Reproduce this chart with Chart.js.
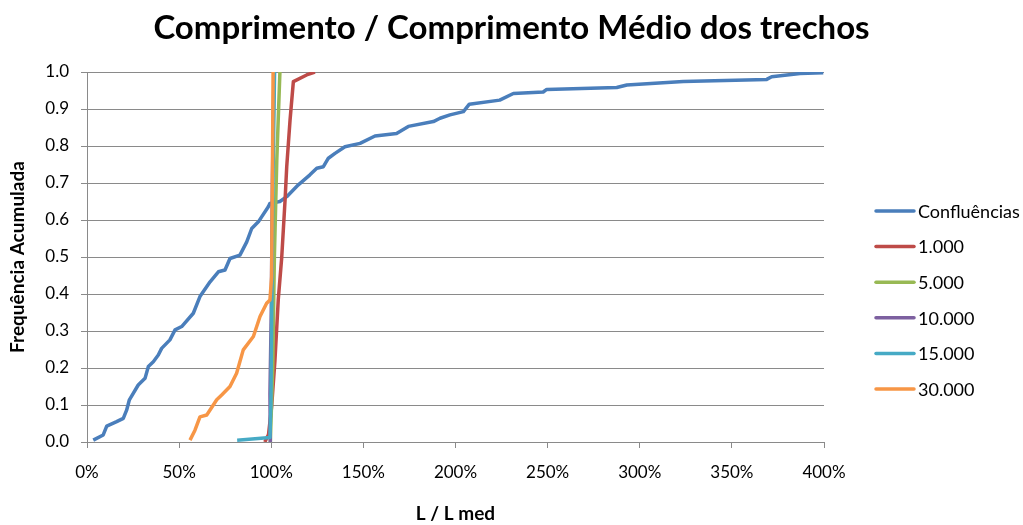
<!DOCTYPE html>
<html>
<head>
<meta charset="utf-8">
<script src="https://cdn.jsdelivr.net/npm/chart.js@4/dist/chart.umd.min.js"></script>
<style>
  html, body { margin: 0; padding: 0; background: #ffffff; }
  #wrap { width: 1023px; height: 525px; }
</style>
</head>
<body>
<div id="wrap"><canvas id="c" width="1023" height="525"></canvas></div>
<script>
// L / L med (%) against cumulative frequency, one list of [x, y] pairs per series
const confluencias = [[3.4,0.005],[8.8,0.019],[10.7,0.043],[16.1,0.055],[19.7,0.064],[21.5,0.086],[23,0.114],[27.8,0.154],[31.5,0.172],[33.3,0.204],[36,0.217],[38.7,0.235],[40.5,0.253],[45,0.276],[47.8,0.303],[51.4,0.312],[57.7,0.348],[61.3,0.393],[66.8,0.433],[71.3,0.46],[74.9,0.465],[77.6,0.496],[83,0.505],[86.7,0.541],[89.4,0.577],[93,0.595],[98.4,0.636],[99.3,0.645],[104.7,0.65],[108.4,0.663],[114.7,0.695],[121,0.722],[124.7,0.74],[128.3,0.744],[131,0.767],[134.6,0.78],[140,0.798],[148.2,0.807],[156.3,0.827],[168,0.834],[174.4,0.853],[188,0.866],[191.6,0.875],[197,0.884],[204.3,0.893],[207.5,0.913],[224,0.924],[231.4,0.942],[247.6,0.946],[249.5,0.953],[287.5,0.958],[293,0.965],[323.6,0.974],[368.9,0.98],[371.6,0.987],[387,0.996],[399.6,0.998]];
const s1000 = [[96.5,0],[98.5,0.02],[100.2,0.095],[102,0.22],[103.8,0.384],[105.7,0.5],[107.5,0.654],[108.4,0.744],[110.2,0.87],[112,0.974],[119.2,0.992],[123.7,1.0]];
const s5000 = [[99.5,0],[100.8,0.2],[101.7,0.5],[103,0.76],[104.7,1.0]];
const s10000 = [[99.5,0],[99.3,0.13],[100,0.35],[100.6,0.7],[101.5,1.0]];
const s15000 = [[81.5,0.005],[99.3,0.012],[99.8,0.1],[100.3,0.38],[100.9,0.7],[101.8,1.0]];
const s30000 = [[55.9,0.005],[58.6,0.032],[61.3,0.068],[65,0.073],[70.4,0.114],[73.1,0.127],[77.6,0.15],[81.2,0.186],[84.8,0.249],[90.3,0.285],[93.9,0.339],[97.5,0.375],[99.3,0.384],[100.2,0.447],[100.6,0.7],[101,1.0]];

const seriesNames = ['Confluências', '1.000', '5.000', '10.000', '15.000', '30.000'];
const seriesData = [confluencias, s1000, s5000, s10000, s15000, s30000];
const seriesColors = ['#4A7EBB', '#BE4B48', '#98B954', '#7D60A0', '#46AAC5', '#F79646'];

const FONT = 'Lato, "DejaVu Sans", sans-serif';

const datasets = seriesData.map((pts, i) => ({
  label: seriesNames[i],
  data: pts.map(p => ({ x: p[0], y: p[1] })),
  borderColor: seriesColors[i],
  backgroundColor: seriesColors[i],
  borderWidth: 3.5,
  borderJoinStyle: 'round',
  pointRadius: 0,
  tension: 0,
  fill: false,
  order: -i
}));

// legend drawn in the right-hand margin, one row per series
const sideLegend = {
  id: 'sideLegend',
  afterDraw(chart) {
    const ctx = chart.ctx;
    ctx.save();
    ctx.font = '18px ' + FONT;
    ctx.textBaseline = 'middle';
    ctx.textAlign = 'left';
    chart.data.datasets.forEach((ds, i) => {
      const y = 211 + i * 35.6;
      ctx.strokeStyle = ds.borderColor;
      ctx.lineWidth = 3.5;
      ctx.lineCap = 'round';
      ctx.beginPath();
      ctx.moveTo(876, y);
      ctx.lineTo(914, y);
      ctx.stroke();
      ctx.fillStyle = '#000000';
      ctx.fillText(ds.label, 918, y + 1);
    });
    ctx.restore();
  }
};

new Chart(document.getElementById('c'), {
  type: 'line',
  data: { datasets },
  plugins: [sideLegend],
  options: {
    responsive: false,
    animation: false,
    devicePixelRatio: 1,
    layout: { padding: 0 },
    plugins: {
      legend: { display: false },
      tooltip: { enabled: false },
      title: {
        display: true,
        text: 'Comprimento / Comprimento Médio dos trechos',
        color: '#000000',
        font: { family: FONT, size: 33, weight: 'bold' },
        padding: { top: 9, bottom: 23.4 }
      }
    },
    scales: {
      x: {
        type: 'linear',
        min: 0,
        max: 400,
        afterFit(scale) { scale.height = 83; },
        ticks: {
          stepSize: 50,
          color: '#000000',
          padding: 14,
          maxRotation: 0,
          font: { family: FONT, size: 17 },
          callback: v => v + '%'
        },
        grid: { drawOnChartArea: false, tickLength: 6, color: '#8a8a8a' },
        border: { color: '#8a8a8a', width: 1 },
        title: {
          display: true,
          text: 'L / L med',
          color: '#000000',
          font: { family: FONT, size: 19, weight: 'bold' },
          padding: { top: 0, bottom: 0 }
        }
      },
      y: {
        type: 'linear',
        min: 0,
        max: 1,
        afterFit(scale) { scale.width = 87; },
        ticks: {
          stepSize: 0.1,
          color: '#000000',
          padding: 12,
          font: { family: FONT, size: 17 },
          callback: v => v.toFixed(1)
        },
        grid: { color: '#8a8a8a', tickLength: 6 },
        border: { color: '#8a8a8a', width: 1 },
        title: {
          display: true,
          text: 'Frequência Acumulada',
          color: '#000000',
          font: { family: FONT, size: 19, weight: 'bold' },
          padding: { top: 6, bottom: 0 }
        }
      },
      // empty right-hand axis that reserves the room taken by the legend
      yLegend: {
        type: 'linear',
        position: 'right',
        min: 0,
        max: 1,
        afterFit(scale) { scale.width = 199; },
        ticks: { display: false },
        grid: { display: false },
        border: { display: false }
      }
    }
  }
});
</script>
</body>
</html>
